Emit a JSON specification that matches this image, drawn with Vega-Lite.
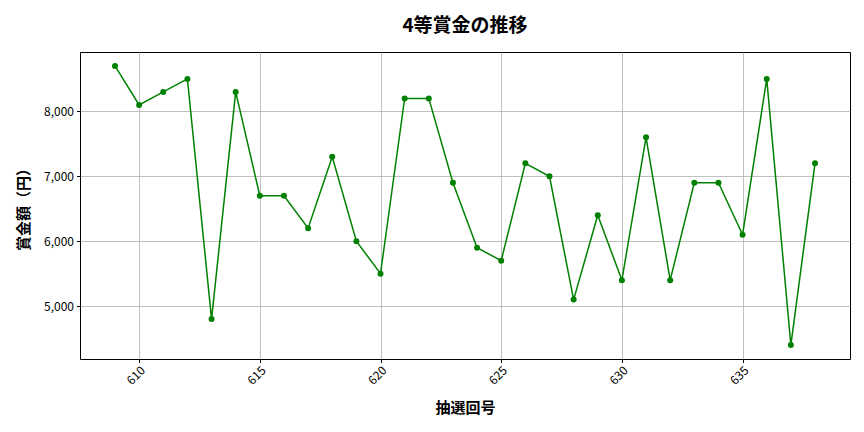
{
  "$schema": "https://vega.github.io/schema/vega-lite/v6.json",
  "autosize": "none",
  "padding": {"left": 80, "top": 52, "right": 14, "bottom": 73},
  "width": 770,
  "height": 307,
  "title": {"text": "4等賞金の推移", "font": "Noto Sans CJK JP", "fontSize": 19, "fontWeight": "bold", "color": "#000", "offset": 16, "anchor": "middle"},
  "config": {
    "font": "Noto Sans CJK JP",
    "view": {"stroke": "#000", "strokeWidth": 1}
  },
  "data": {"values": [
    {"round": 609, "prize": 8700},
    {"round": 610, "prize": 8100},
    {"round": 611, "prize": 8300},
    {"round": 612, "prize": 8500},
    {"round": 613, "prize": 4800},
    {"round": 614, "prize": 8300},
    {"round": 615, "prize": 6700},
    {"round": 616, "prize": 6700},
    {"round": 617, "prize": 6200},
    {"round": 618, "prize": 7300},
    {"round": 619, "prize": 6000},
    {"round": 620, "prize": 5500},
    {"round": 621, "prize": 8200},
    {"round": 622, "prize": 8200},
    {"round": 623, "prize": 6900},
    {"round": 624, "prize": 5900},
    {"round": 625, "prize": 5700},
    {"round": 626, "prize": 7200},
    {"round": 627, "prize": 7000},
    {"round": 628, "prize": 5100},
    {"round": 629, "prize": 6400},
    {"round": 630, "prize": 5400},
    {"round": 631, "prize": 7600},
    {"round": 632, "prize": 5400},
    {"round": 633, "prize": 6900},
    {"round": 634, "prize": 6900},
    {"round": 635, "prize": 6100},
    {"round": 636, "prize": 8500},
    {"round": 637, "prize": 4400},
    {"round": 638, "prize": 7200}
  ]},
  "encoding": {
    "x": {"field": "round", "type": "quantitative",
      "scale": {"domain": [607.55, 639.45], "nice": false, "zero": false},
      "axis": {"title": "抽選回号", "values": [610, 615, 620, 625, 630, 635], "labelAngle": -45, "labelAlign": "right", "labelBaseline": "top", "labelFontSize": 12, "labelColor": "#000", "labelPadding": 2,
        "titleFontSize": 15, "titleFontWeight": "bold", "titleColor": "#000", "titlePadding": 14,
        "grid": true, "gridColor": "#b0b0b0", "gridWidth": 0.8, "tickColor": "#000", "tickSize": 3.5, "domain": false, "format": "d"}},
    "y": {"field": "prize", "type": "quantitative",
      "scale": {"domain": [4185, 8915], "nice": false, "zero": false},
      "axis": {"title": "賞金額（円）", "values": [5000, 6000, 7000, 8000], "format": ",d", "labelFontSize": 12, "labelColor": "#000", "labelPadding": 3,
        "titleFontSize": 15, "titleFontWeight": "bold", "titleColor": "#000", "titlePadding": 12,
        "grid": true, "gridColor": "#b0b0b0", "gridWidth": 0.8, "tickColor": "#000", "tickSize": 3.5, "domain": false}}
  },
  "layer": [
    {"mark": {"type": "line", "color": "green", "strokeWidth": 1.5}},
    {"mark": {"type": "point", "filled": true, "color": "green", "size": 36, "opacity": 1}}
  ]
}
